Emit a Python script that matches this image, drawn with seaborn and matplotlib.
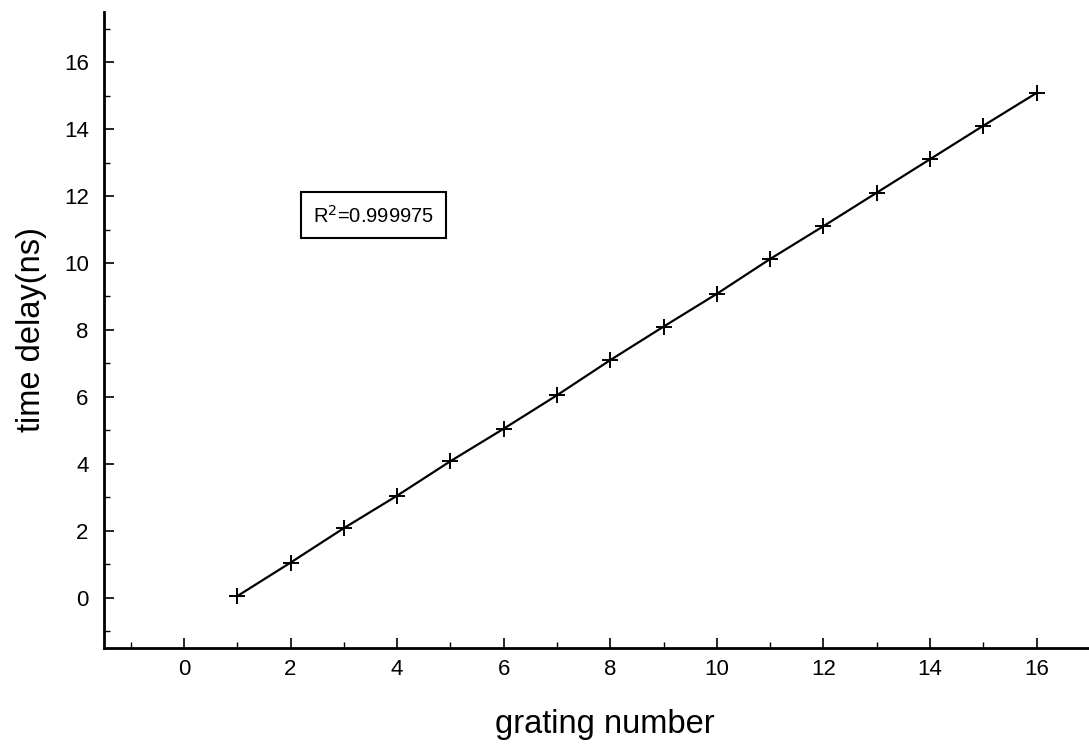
import numpy as np
import pandas as pd
import matplotlib.pyplot as plt
import seaborn as sns
from matplotlib.ticker import MultipleLocator

grating = [1, 2, 3, 4, 5, 6, 7, 8, 9, 10, 11, 12, 13, 14, 15, 16]
delay = [0.05, 1.05, 2.08, 3.05, 4.08, 5.05, 6.05, 7.1, 8.1, 9.08, 10.12, 11.1, 12.1, 13.1, 14.1, 15.08]
x_ticks = [0, 2, 4, 6, 8, 10, 12, 14, 16]
y_ticks = [0, 2, 4, 6, 8, 10, 12, 14, 16]

sns.set_style('ticks', {'axes.edgecolor': 'black', 'text.color': 'black',
                        'xtick.color': 'black', 'ytick.color': 'black',
                        'axes.labelcolor': 'black'})
plt.rcParams['font.family'] = ['Liberation Sans', 'DejaVu Sans']

df = pd.DataFrame({'grating number': grating, 'time delay(ns)': delay})

fig = plt.figure(figsize=(10.89, 7.44), dpi=100)
ax = fig.add_axes([0.0955, 0.129, 0.92, 0.855])
sns.lineplot(data=df, x='grating number', y='time delay(ns)', color='black',
             linewidth=1.6, marker='+', markersize=11, markeredgewidth=1.4,
             markeredgecolor='black', ax=ax)

ax.set_xlim(-1.5, 17.3)
ax.set_ylim(-1.5, 17.5)
ax.set_xticks(x_ticks)
ax.set_yticks(y_ticks)
ax.xaxis.set_minor_locator(MultipleLocator(1))
ax.yaxis.set_minor_locator(MultipleLocator(1))
ax.tick_params(which='major', direction='in', length=7, width=1.2, labelsize=16)
ax.tick_params(axis='x', which='major', pad=8)
ax.tick_params(axis='y', which='major', pad=11)
ax.tick_params(which='minor', direction='in', length=4, width=1)
sns.despine(ax=ax)
ax.spines['left'].set_linewidth(2)
ax.spines['bottom'].set_linewidth(2)
ax.set_xlabel('grating number', fontsize=23.5, labelpad=21)
ax.set_ylabel('time delay(ns)', fontsize=23.5, labelpad=12)

ax.text(3.55, 11.42, r'R$^2$=0.999975', fontsize=14.5, ha='center', va='center',
        bbox=dict(boxstyle='square,pad=0.6', facecolor='white', edgecolor='black', linewidth=1.5))

fig.savefig('out.png', dpi=100)
